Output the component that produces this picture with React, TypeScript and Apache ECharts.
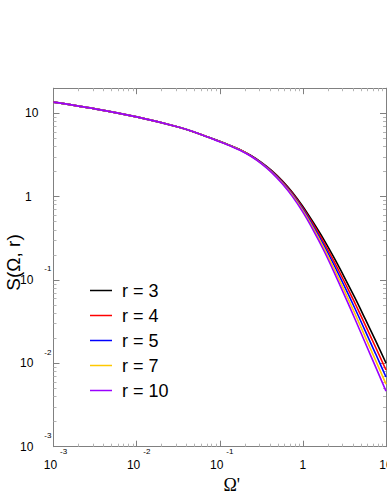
import React, { useEffect, useRef } from 'react';
import * as echarts from 'echarts';

const omega = [
  0.001, 0.00316, 0.01, 0.0316, 0.0562, 0.1, 0.133, 0.178, 0.237, 0.316, 0.422, 0.562, 0.75,
  1, 1.33, 1.78, 2.37, 3.16, 4.22, 5.62, 7.5, 10,
];
const sR3 = [
  13.6, 11.3, 9.05, 6.85, 5.7, 4.61, 4.121, 3.639, 3.119, 2.582, 2.056, 1.563, 1.125,
  0.763, 0.4925, 0.3072, 0.1851, 0.1078, 0.0613, 0.03408, 0.01873, 0.0101,
];
const sR4 = [
  13.6, 11.3, 9.05, 6.85, 5.7, 4.598, 4.109, 3.624, 3.101, 2.559, 2.027, 1.53, 1.092,
  0.7335, 0.4668, 0.285, 0.1676, 0.0953, 0.05301, 0.02891, 0.01561, 0.00832,
];
const sR5 = [
  13.6, 11.3, 9.05, 6.85, 5.7, 4.586, 4.097, 3.61, 3.083, 2.535, 1.998, 1.498, 1.06,
  0.705, 0.4421, 0.2644, 0.1518, 0.08425, 0.04584, 0.02453, 0.01302, 0.00685,
];
const sR7 = [
  13.6, 11.3, 9.05, 6.85, 5.7, 4.574, 4.085, 3.595, 3.066, 2.512, 1.969, 1.466, 1.03,
  0.6778, 0.4192, 0.2453, 0.1374, 0.07455, 0.03963, 0.02082, 0.01086, 0.00564,
];
const sR10 = [
  13.6, 11.3, 9.05, 6.85, 5.7, 4.56, 4.074, 3.581, 3.048, 2.489, 1.941, 1.435, 1.0,
  0.6516, 0.3972, 0.2275, 0.1245, 0.0659, 0.0343, 0.01766, 0.00906, 0.00464,
];

const seriesNames = ['r = 3', 'r = 4', 'r = 5', 'r = 7', 'r = 10'];
const seriesValues = [sR3, sR4, sR5, sR7, sR10];
const seriesColors = ['#000000', '#ff0000', '#0000ff', '#ffc800', '#9a00ff'];

const FONT = 'Liberation Sans, Arial, sans-serif';

function powLabel(v: number): string {
  const e = Math.round(Math.log10(v));
  if (Math.abs(Math.log10(v) - e) > 1e-6) return '';
  if (e === 0) return '{p|1}';
  if (e === 1) return '{p|10}';
  return '{b|10}{s|' + e + '}';
}

const axisLineStyle = { color: '#808080', width: 1 };

export default function App() {
  const ref = useRef<HTMLDivElement>(null);
  useEffect(() => {
    if (!ref.current) return;
    const chart = echarts.init(ref.current, undefined, { renderer: 'svg' });
    const tickCommon = {
      splitLine: { show: false },
      axisLine: { show: true, lineStyle: axisLineStyle },
      axisTick: { show: true, inside: true, length: 6, lineStyle: { color: '#808080' } },
      minorTick: { show: true, splitNumber: 9, length: 3, lineStyle: { color: '#b4b4b4' } },
      minorSplitLine: { show: false },
    };
    const xCommon = { type: 'log' as const, logBase: 10, min: 0.001, max: 10, ...tickCommon };
    const yCommon = { type: 'log' as const, logBase: 10, min: 0.001, max: 20, ...tickCommon };
    chart.setOption({
      animation: false,
      backgroundColor: '#ffffff',
      grid: {
        left: 53.5,
        right: 1,
        top: 88.2,
        bottom: 54.3,
        containLabel: false,
        outerBoundsMode: 'none',
      },
      legend: {
        show: true,
        orient: 'vertical',
        left: 85,
        top: 276.5,
        itemWidth: 22,
        itemHeight: 1.5,
        itemGap: 7,
        icon: 'rect',
        data: seriesNames,
        textStyle: { fontFamily: FONT, fontSize: 18, color: '#000', padding: [0, 0, 0, 5] },
      },
      xAxis: [
        {
          ...xCommon,
          position: 'bottom',
          name: "Ω'",
          nameLocation: 'middle',
          nameGap: 29,
          nameMoveOverlap: false,
          nameTextStyle: {
            fontFamily: 'Liberation Serif, Times New Roman, serif',
            fontSize: 18,
            color: '#000',
            padding: [0, 0, 0, 24],
          },
          axisLabel: {
            show: true,
            margin: 0,
            showMaxLabel: true,
            formatter: powLabel,
            color: '#000',
            rich: {
              b: { fontFamily: FONT, fontSize: 12, lineHeight: 36, padding: [0, 0, 0, 4], color: '#000' },
              p: { fontFamily: FONT, fontSize: 12, lineHeight: 36, color: '#000' },
              s: { fontFamily: FONT, fontSize: 8, lineHeight: 10, padding: [0, 0, 26, 3], color: '#000' },
            },
          },
        },
        {
          ...xCommon,
          position: 'top',
          axisLabel: { show: false },
        },
      ],
      yAxis: [
        {
          ...yCommon,
          position: 'left',
          name: 'S(Ω, r)',
          nameLocation: 'middle',
          nameGap: 31,
          nameMoveOverlap: false,
          nameTextStyle: {
            fontFamily: FONT,
            fontSize: 19,
            color: '#000',
            padding: [0, 0, 0, 10],
          },
          axisLabel: {
            show: true,
            margin: 33.5,
            align: 'left',
            showMaxLabel: false,
            formatter: powLabel,
            color: '#000',
            rich: {
              b: { fontFamily: FONT, fontSize: 12, lineHeight: 32, color: '#000' },
              p: { fontFamily: FONT, fontSize: 12, lineHeight: 32, padding: [0, 0, 0, 5], color: '#000' },
              s: { fontFamily: FONT, fontSize: 8, lineHeight: 10, padding: [0, 0, 22, 11], color: '#000' },
            },
          },
        },
        {
          ...yCommon,
          position: 'right',
          axisLabel: { show: false },
        },
      ],
      series: seriesNames.map((name, i) => ({
        name,
        type: 'line',
        xAxisIndex: 0,
        yAxisIndex: 0,
        symbol: 'none',
        smooth: 0.3,
        clip: true,
        data: omega.map((x, j) => [x, seriesValues[i][j]]),
        lineStyle: { color: seriesColors[i], width: 1.6 },
        itemStyle: { color: seriesColors[i] },
      })),
    });
    return () => chart.dispose();
  }, []);
  return (
    <div
      ref={ref}
      style={{ position: 'fixed', left: 0, top: 0, width: 387, height: 501, background: '#fff' }}
    />
  );
}
